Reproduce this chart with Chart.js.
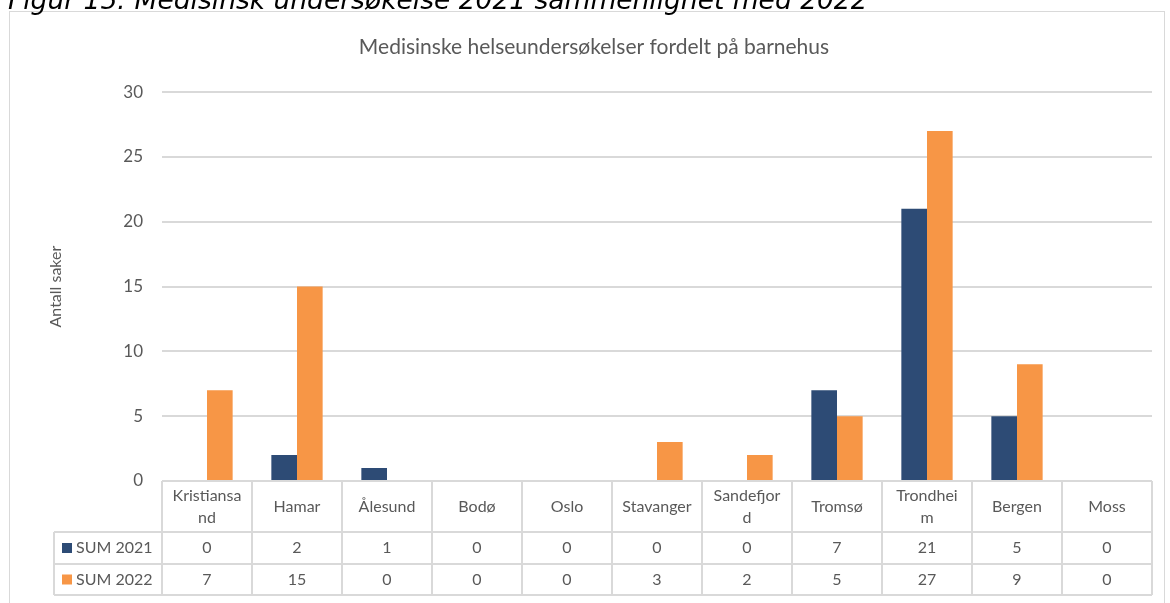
<!DOCTYPE html>
<html>
<head>
<meta charset="utf-8">
<script src="https://cdn.jsdelivr.net/npm/chart.js@4"></script>
<style>
  body { margin: 0; background: #fff; }
  #wrap { position: relative; width: 1170px; height: 603px; overflow: hidden; }
  #caption {
    position: absolute; left: 8px; top: -13px;
    font: italic 26.5px/26.5px "DejaVu Sans", sans-serif; color: #000; white-space: nowrap;
  }
  canvas { position: absolute; left: 0; top: 0; }
</style>
</head>
<body>
<div id="wrap">
  <canvas id="chart" width="1170" height="603"></canvas>
  <div id="caption">Figur 15: Medisinsk undersøkelse 2021 sammenlignet med 2022</div>
</div>
<script>
const categories = ["Kristiansand", "Hamar", "Ålesund", "Bodø", "Oslo", "Stavanger", "Sandefjord", "Tromsø", "Trondheim", "Bergen", "Moss"];
const seriesNames = ["SUM 2021", "SUM 2022"];
const sum2021 = [0, 2, 1, 0, 0, 0, 0, 7, 21, 5, 0];
const sum2022 = [7, 15, 0, 0, 0, 3, 2, 5, 27, 9, 0];
const yMin = 0;
const yMax = 30;
const yStep = 5;
const chartTitle = "Medisinske helseundersøkelser fordelt på barnehus";
const yTitle = "Antall saker";

const textColor = "#595959";
const lineColor = "#D9D9D9";
const colors = ["#2D4B75", "#F79646"];

// wraps a label by characters when it does not fit the cell (like Excel does)
function wrapLabel(ctx, text, maxWidth) {
  const lines = [];
  let line = "";
  for (const ch of text) {
    if (line && ctx.measureText(line + ch).width > maxWidth) {
      lines.push(line);
      line = ch;
    } else {
      line += ch;
    }
  }
  lines.push(line);
  return lines;
}

const dataTable = {
  id: "dataTable",
  beforeDraw(chart) {
    const ctx = chart.ctx;
    ctx.save();
    ctx.strokeStyle = lineColor;
    ctx.lineWidth = 1;
    ctx.strokeRect(9.5, 11.5, 1155, 620);
    ctx.restore();
  },
  afterDraw(chart) {
    const ctx = chart.ctx;
    const area = chart.chartArea;
    const x = chart.scales.x;
    const n = categories.length;
    const cw = (area.right - area.left) / n;
    const top = area.bottom;
    const rowTops = [top, top + 51, top + 83, top + 114];
    const legLeft = 54;

    ctx.save();
    ctx.strokeStyle = lineColor;
    ctx.lineWidth = 2;
    ctx.beginPath();
    ctx.moveTo(area.left, rowTops[0]);
    ctx.lineTo(area.right, rowTops[0]);
    for (let r = 1; r < rowTops.length; r++) {
      ctx.moveTo(legLeft, rowTops[r]);
      ctx.lineTo(area.right, rowTops[r]);
    }
    for (let i = 0; i <= n; i++) {
      const bx = area.left + i * cw;
      ctx.moveTo(bx, rowTops[0]);
      ctx.lineTo(bx, rowTops[3]);
    }
    ctx.moveTo(legLeft, rowTops[1]);
    ctx.lineTo(legLeft, rowTops[3]);
    ctx.stroke();

    ctx.fillStyle = textColor;
    ctx.font = "16px Lato";
    ctx.textAlign = "center";
    ctx.textBaseline = "middle";

    // category header
    categories.forEach((c, i) => {
      const cx = x.getPixelForValue(i);
      const lines = wrapLabel(ctx, c, cw - 18);
      const mid = (rowTops[0] + rowTops[1]) / 2;
      const lh = 22;
      lines.forEach((l, k) => {
        ctx.fillText(l, cx, mid + (k - (lines.length - 1) / 2) * lh);
      });
    });

    // values and legend keys
    chart.data.datasets.forEach((ds, d) => {
      const mid = (rowTops[d + 1] + rowTops[d + 2]) / 2;
      ds.data.forEach((v, i) => {
        ctx.fillStyle = textColor;
        ctx.textAlign = "center";
        ctx.fillText(String(v), x.getPixelForValue(i), mid);
      });
      ctx.fillStyle = ds.backgroundColor;
      ctx.fillRect(62, mid - 5, 10, 10);
      ctx.fillStyle = textColor;
      ctx.textAlign = "left";
      ctx.fillText(ds.label, 76, mid);
    });
    ctx.restore();
  }
};

new Chart(document.getElementById("chart"), {
  type: "bar",
  data: {
    labels: categories,
    datasets: [
      { label: seriesNames[0], data: sum2021, backgroundColor: colors[0] },
      { label: seriesNames[1], data: sum2022, backgroundColor: colors[1] }
    ]
  },
  options: {
    responsive: false,
    animation: false,
    categoryPercentage: 0.57,
    barPercentage: 1,
    layout: { padding: { left: 36, right: 18, top: 0, bottom: 122 } },
    plugins: {
      legend: { display: false },
      tooltip: { enabled: false },
      title: {
        display: true,
        text: chartTitle,
        color: textColor,
        font: { family: "Lato", size: 21, weight: "normal" },
        padding: { top: 35, bottom: 32 }
      }
    },
    scales: {
      x: { display: false },
      y: {
        min: yMin,
        max: yMax,
        afterFit: (scale) => { scale.width = 126; },
        ticks: { stepSize: yStep, color: textColor, padding: 19, font: { family: "Lato", size: 17 } },
        grid: { color: lineColor, lineWidth: 2, drawTicks: false },
        border: { display: false },
        title: {
          display: true,
          text: yTitle,
          color: textColor,
          font: { family: "Lato", size: 16 },
          padding: { top: 10, bottom: 0 }
        }
      }
    }
  },
  plugins: [dataTable]
});
</script>
</body>
</html>
